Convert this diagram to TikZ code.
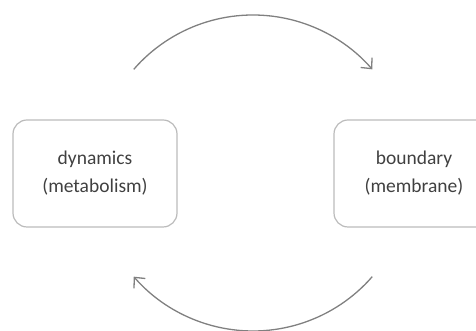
\documentclass[tikz,border=0pt]{standalone}
\usepackage{fontspec}
\setmainfont{Carlito}
\usetikzlibrary{arrows.meta}
\definecolor{txt}{HTML}{404040}
\definecolor{boxline}{HTML}{BBBBBB}
\definecolor{arrowc}{HTML}{808080}
\tikzset{
  roundbox/.style={draw=boxline, line width=1.2pt, rounded corners=14pt,
    minimum height=107pt, inner sep=0pt, align=center, text=txt,
    font=\fontsize{19.5pt}{28pt}\selectfont},
  cycarrow/.style={draw=arrowc, line width=1.3pt,
    -{Straight Barb[length=8pt,width=15pt,line width=1.3pt]}}
}
\begin{document}
\begin{tikzpicture}[x=1pt,y=1pt]
\useasboundingbox (0,0) rectangle (476,331);
\node[roundbox, minimum width=164pt] (dyn) at (95,157.5) {dynamics\\(metabolism)};
\node[roundbox, minimum width=160pt] (bnd) at (414,157.5) {boundary\\(membrane)};
\coordinate (c) at (253,158);
\draw[cycarrow] ([shift={(139:158)}]c) arc[start angle=139, end angle=41, radius=158];
\draw[cycarrow] ([shift={(-41:158)}]c) arc[start angle=-41, end angle=-139, radius=158];
\end{tikzpicture}
\end{document}
